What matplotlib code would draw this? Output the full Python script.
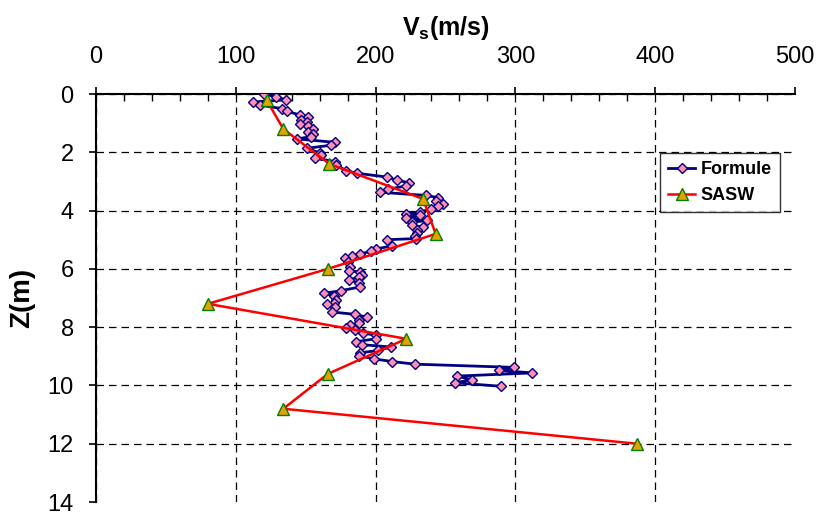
import matplotlib
matplotlib.use("Agg")
import matplotlib.pyplot as plt
from matplotlib.ticker import MultipleLocator

plt.rcParams['font.family'] = ['Liberation Sans', 'DejaVu Sans']

# Formule series (depth Z in m, Vs in m/s)
formule_z = [0.00, 0.10, 0.20, 0.28, 0.38, 0.50, 0.60, 0.72, 0.80, 0.88, 0.96, 1.04,
             1.10, 1.20, 1.30, 1.38, 1.46, 1.54, 1.66, 1.76, 1.86, 2.02, 2.10, 2.20,
             2.32, 2.42, 2.64, 2.72, 2.85, 2.95, 3.05, 3.15, 3.27, 3.37, 3.48, 3.56,
             3.67, 3.76, 3.86, 3.95, 4.04, 4.12, 4.16, 4.25, 4.34, 4.40, 4.50, 4.57,
             4.66, 4.76, 4.86, 4.96, 5.00, 5.21, 5.32, 5.40, 5.48, 5.56, 5.64, 5.78,
             5.92, 6.08, 6.10, 6.20, 6.28, 6.38, 6.48, 6.62, 6.75, 6.84, 6.92, 7.08,
             7.16, 7.22, 7.32, 7.48, 7.56, 7.66, 7.76, 7.86, 7.92, 8.02, 8.10, 8.20,
             8.28, 8.40, 8.50, 8.60, 8.68, 8.80, 8.88, 8.98, 9.09, 9.18, 9.27, 9.38,
             9.48, 9.57, 9.68, 9.80, 9.91, 10.03]
formule_v = [120, 129, 136, 112, 117, 133, 137, 146, 152, 147, 151, 146,
             152, 155, 152, 155, 154, 144, 171, 168, 151, 160, 161, 157,
             171, 172, 179, 187, 208, 215, 224, 222, 209, 203, 236, 245,
             243, 248, 245, 240, 232, 222, 232, 222, 237, 226, 226, 234,
             230, 230, 228, 229, 208, 212, 200, 197, 189, 183, 178, 180,
             182, 181, 189, 190, 188, 181, 188, 189, 175, 163, 170, 172,
             170, 165, 171, 169, 185, 194, 188, 188, 182, 179, 185, 191,
             200, 200, 186, 190, 211, 202, 189, 188, 199, 212, 228, 299,
             288, 312, 258, 269, 257, 290]

# SASW series
sasw_z = [0.2, 1.2, 2.4, 3.6, 4.8, 6.0, 7.2, 8.4, 9.6, 10.8, 12.0]
sasw_v = [122, 134, 167, 234, 243, 166, 80, 222, 166, 134, 387]

x_ticks = [0, 100, 200, 300, 400, 500]
y_ticks = [0, 2, 4, 6, 8, 10, 12, 14]

fig = plt.figure(figsize=(8.16, 5.12), dpi=100)
ax = fig.add_axes([0.1176, 0.0195, 0.8566, 0.7969])

ax.plot(formule_v, formule_z, color='#000080', lw=2.0, marker='D', markersize=5,
        markerfacecolor='#FF8FB0', markeredgecolor='#000080', markeredgewidth=1.0,
        label='Formule', zorder=3)
ax.plot(sasw_v, sasw_z, color='#FF0000', lw=1.8, marker='^', markersize=8.5,
        markerfacecolor='#E8A000', markeredgecolor='#008000', markeredgewidth=1.0,
        label='SASW', zorder=4)

ax.set_xlim(0, 500)
ax.set_ylim(14, 0)
ax.set_xticks(x_ticks)
ax.set_yticks(y_ticks)
ax.xaxis.set_minor_locator(MultipleLocator(20))
ax.xaxis.tick_top()
ax.xaxis.set_label_position('top')
ax.tick_params(axis='x', which='major', direction='out', length=5, width=1.2,
               labelsize=17, pad=14)
ax.tick_params(axis='x', which='minor', direction='in', length=5, width=1.0, top=True, bottom=False)
ax.tick_params(axis='y', which='major', direction='out', length=5, width=1.2,
               labelsize=17, pad=11)

ax.grid(True, which='major', color='black', linestyle=(0, (6, 4)), lw=0.9)
ax.xaxis.get_gridlines()[-1].set_visible(False)
ax.yaxis.get_gridlines()[-1].set_visible(False)

for s in ['right', 'bottom']:
    ax.spines[s].set_visible(False)
for s in ['left', 'top']:
    ax.spines[s].set_linewidth(1.5)

ax.set_xlabel(r'V$_\mathregular{s}$(m/s)', fontsize=18, fontweight='bold', labelpad=8)
ax.set_ylabel('Z(m)', fontsize=20, fontweight='bold', labelpad=9)

leg = ax.legend(loc='upper left', bbox_to_anchor=(0.807, 0.855), frameon=True,
                fancybox=False, edgecolor='black', prop={'weight': 'bold', 'size': 13},
                handlelength=1.5, borderpad=0.45, labelspacing=0.5, handletextpad=0.3,
                borderaxespad=0)
leg.get_frame().set_linewidth(1.0)

fig.savefig('out.png', dpi=100)
